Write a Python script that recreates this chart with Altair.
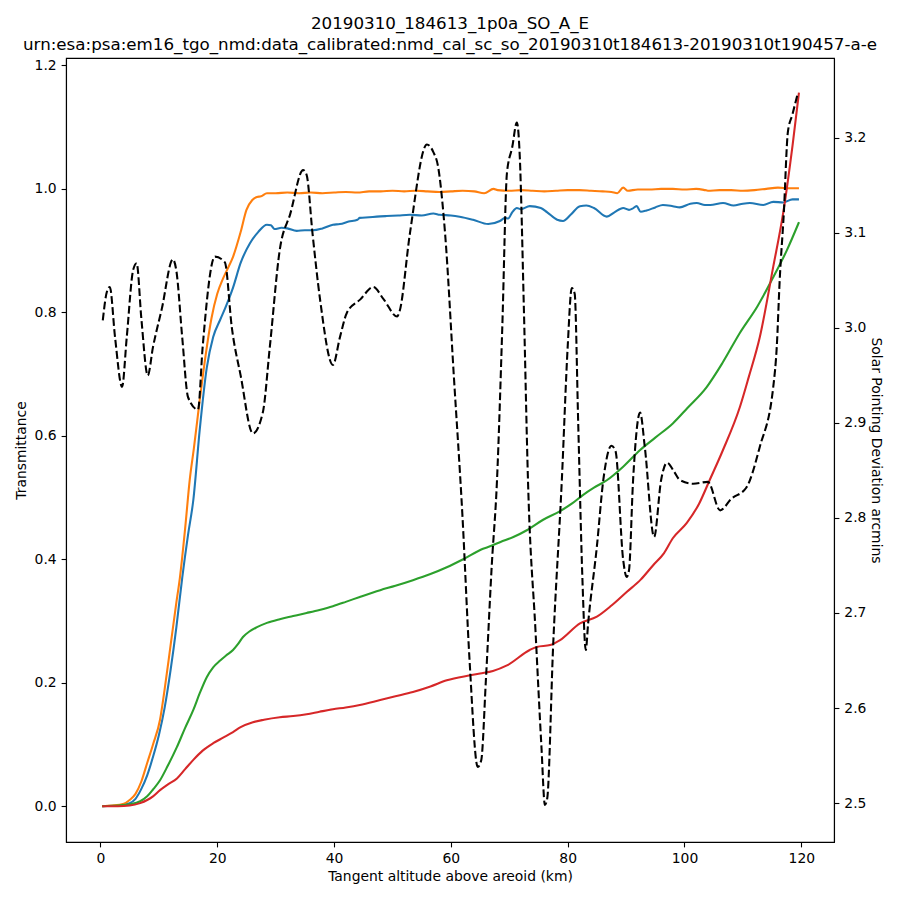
import altair as alt
import pandas as pd

# ---- data ----
blue_x = [0.3, 3, 5, 6, 7, 8, 9, 10, 11, 12, 13, 14, 15, 15.9, 17, 18.2, 19.3, 20.5, 21.5, 22.7,
          24, 25.6, 27, 28.5, 29.2, 29.8, 31, 32, 33.6, 35, 36.4, 38, 39.8, 41, 42.5, 44, 44.4,
          46, 47.3, 49, 51, 53, 55, 57, 58.1, 60, 61.5, 63.8, 66.4, 68.4, 69.3, 69.8, 70.5, 71.3,
          72, 73.5, 75.4, 76.5, 78.2, 79.2, 80.5, 82.1, 83.2, 84.5, 86.7, 88, 89.5, 90.5, 91.1,
          91.8, 92.5, 93.5, 95, 96.3, 98, 99.2, 101, 102.1, 103.5, 104.4, 106.6, 108.4, 110,
          111.2, 113.5, 115.2, 116.9, 118.5, 119.6]
blue_y = [0.0, 0.001, 0.005, 0.012, 0.028, 0.05, 0.08, 0.115, 0.16, 0.22, 0.29, 0.37, 0.44, 0.496,
          0.61, 0.71, 0.76, 0.788, 0.81, 0.84, 0.88, 0.912, 0.93, 0.942, 0.941, 0.935, 0.937, 0.936,
          0.932, 0.933, 0.933, 0.936, 0.942, 0.943, 0.947, 0.95, 0.953, 0.954, 0.955, 0.956, 0.957,
          0.958, 0.957, 0.96, 0.958, 0.957, 0.955, 0.950, 0.943, 0.948, 0.953, 0.952, 0.962, 0.969,
          0.967, 0.972, 0.969, 0.962, 0.950, 0.948, 0.958, 0.972, 0.973, 0.969, 0.955, 0.962, 0.969,
          0.966, 0.968, 0.972, 0.963, 0.965, 0.97, 0.974, 0.972, 0.970, 0.976, 0.977, 0.974, 0.974,
          0.977, 0.973, 0.976, 0.977, 0.974, 0.979, 0.978, 0.983, 0.983]

orange_x = [0.3, 2, 4, 5, 6, 7, 8, 9, 10.2, 11, 12, 13, 13.6, 14.5, 15.3, 16, 17, 18, 19, 20, 21,
            22, 22.7, 24, 25, 26, 26.8, 27.5, 28.5, 30, 32, 34, 36, 38, 40, 42, 44, 46, 48, 50, 52,
            54, 56, 58, 60, 62, 64, 65.7, 67.3, 68, 70, 72, 74, 76, 78, 80, 82, 84, 86, 87.5, 88.5,
            89.5, 90.3, 92, 94, 96, 98, 100, 102, 103.5, 104, 106, 108, 110, 112, 114, 116, 118, 119.6]
orange_y = [0.0, 0.001, 0.004, 0.01, 0.02, 0.04, 0.07, 0.10, 0.14, 0.19, 0.26, 0.33, 0.37, 0.45,
            0.53, 0.58, 0.658, 0.73, 0.79, 0.83, 0.855, 0.875, 0.89, 0.93, 0.966, 0.982, 0.987,
            0.988, 0.993, 0.993, 0.994, 0.993, 0.994, 0.993, 0.994, 0.995, 0.994, 0.996, 0.996,
            0.997, 0.996, 0.997, 0.996, 0.995, 0.996, 0.997, 0.996, 0.993, 1.0, 0.998, 0.997, 0.998,
            0.997, 0.996, 0.997, 0.998, 0.998, 0.997, 0.996, 0.995, 0.993, 1.002, 0.997, 0.999,
            0.999, 1.0, 1.0, 0.999, 1.0, 0.998, 0.997, 0.998, 0.998, 0.997, 0.998, 1.0, 1.002,
            1.001, 1.001]

green_x = [0.3, 3, 5, 6.8, 8, 9, 10.2, 11.5, 13.1, 14.5, 15.9, 17, 18.2, 19.3, 20.5, 21.5, 22.7,
           23.5, 24.4, 25.5, 26.8, 28.5, 30.7, 33, 35.3, 37.5, 39.8, 42, 44.4, 47.9, 50.5, 53.5,
           56.5, 59.3, 62.1, 65.5, 66.7, 68.5, 70.7, 73, 75.8, 78.7, 80.7, 82.6, 84.5, 86.7, 89.5,
           92.4, 95, 98, 100.5, 103.8, 106.5, 109.5, 112.5, 115.2, 117.5, 119.6]
green_y = [0.0, 0.001, 0.003, 0.008, 0.016, 0.027, 0.042, 0.065, 0.096, 0.127, 0.156, 0.183, 0.209,
           0.225, 0.236, 0.244, 0.253, 0.262, 0.274, 0.283, 0.29, 0.297, 0.303, 0.308, 0.313, 0.318,
           0.324, 0.331, 0.339, 0.350, 0.357, 0.366, 0.376, 0.387, 0.400, 0.417, 0.421, 0.428,
           0.436, 0.447, 0.464, 0.478, 0.49, 0.504, 0.516, 0.528, 0.55, 0.577, 0.597, 0.62, 0.645,
           0.679, 0.718, 0.767, 0.81, 0.857, 0.9, 0.946]

red_x = [0.3, 3, 5, 6.8, 8, 9, 10.2, 11.5, 13.1, 14.5, 15.9, 17.5, 19.3, 21, 22.7, 24, 26.1, 28,
         30.7, 33, 35.3, 37.5, 39.8, 42, 44.4, 47.9, 50.5, 53.5, 56.5, 59.3, 63.3, 65, 67.2, 69.6,
         73.5, 74.7, 77, 78.7, 82.1, 85, 87.5, 90.1, 92.5, 94.6, 96.5, 98, 100.4, 102.5, 104.3,
         106.5, 109.5, 111, 112.9, 115.2, 116.9, 118.5, 119.6]
red_y = [0.0, 0.0, 0.001, 0.005, 0.01, 0.016, 0.026, 0.035, 0.045, 0.06, 0.075, 0.09, 0.102, 0.111,
         0.12, 0.128, 0.136, 0.14, 0.144, 0.146, 0.149, 0.153, 0.157, 0.16, 0.164, 0.172, 0.178,
         0.185, 0.194, 0.204, 0.212, 0.215, 0.219, 0.228, 0.253, 0.258, 0.261, 0.269, 0.296,
         0.307, 0.325, 0.347, 0.367, 0.39, 0.41, 0.434, 0.459, 0.49, 0.528, 0.575, 0.647, 0.695,
         0.76, 0.874, 0.961, 1.07, 1.156]

dev_x = [0.4, 1.1, 1.6, 2.5, 3.7, 4.5, 5.6, 6.2, 7, 8.1, 9, 10.5, 12.4, 13, 14, 15, 16.7, 17.5,
         19.6, 21.3, 22.5, 24, 26.1, 27.8, 29, 30.7, 32.5, 34.7, 35.3, 36.3, 37.6, 39.8, 41, 42.2,
         44.5, 46.7, 48.5, 50.8, 51.2, 53, 55.9, 57, 57.8, 59, 60.5, 62, 63.2, 64.6, 65.2, 66, 67,
         67.9, 68.8, 69.6, 70.5, 71.3, 71.8, 72.5, 73.2, 74.5, 75.5, 76.1, 76.5, 77.5, 79, 80,
         80.7, 81.2, 81.8, 82.5, 83.1, 83.5, 85, 86.1, 87.5, 88.2, 89.5, 90.1, 90.5, 91.2, 92.4,
         93.2, 94.8, 96, 97, 98.3, 99.2, 101.5, 104, 106.1, 108, 110.6, 112.9, 115.2, 115.8, 116.3,
         117, 117.7, 118.5, 119.4]
dev_y = [3.008, 3.038, 3.043, 2.99, 2.938, 2.99, 3.061, 3.068, 3.01, 2.95, 2.98, 3.02, 3.072, 3.06,
         2.99, 2.927, 2.914, 2.98, 3.075, 3.069, 3.0, 2.95, 2.889, 2.911, 2.98, 3.082, 3.12, 3.166,
         3.161, 3.1, 3.03, 2.961, 2.99, 3.016, 3.03, 3.043, 3.03, 3.012, 3.017, 3.1, 3.193, 3.185,
         3.17, 3.1, 2.95, 2.8, 2.65, 2.538, 2.545, 2.63, 2.75, 2.84, 3.0, 3.163, 3.19, 3.216, 3.18,
         3.02, 2.84, 2.68, 2.56, 2.498, 2.505, 2.664, 2.84, 2.98, 3.042, 3.036, 2.9, 2.74, 2.661,
         2.689, 2.77, 2.84, 2.876, 2.87, 2.756, 2.738, 2.745, 2.84, 2.911, 2.875, 2.78, 2.84, 2.858,
         2.848, 2.84, 2.836, 2.838, 2.808, 2.82, 2.832, 2.875, 2.938, 2.98, 3.05, 3.12, 3.206, 3.225,
         3.247]

x_ticks = [0, 20, 40, 60, 80, 100, 120]
left_ticks = [0.0, 0.2, 0.4, 0.6, 0.8, 1.0, 1.2]
right_ticks = [2.5, 2.6, 2.7, 2.8, 2.9, 3.0, 3.1, 3.2]

title_lines = ["20190310_184613_1p0a_SO_A_E",
               "urn:esa:psa:em16_tgo_nmd:data_calibrated:nmd_cal_sc_so_20190310t184613-20190310t190457-a-e"]

# ---- chart ----
xscale = alt.Scale(domain=[-5.9, 125.6], nice=False, zero=False)
xaxis = alt.Axis(values=x_ticks, title="Tangent altitude above areoid (km)", titlePadding=3.5)
yscale = alt.Scale(domain=[-0.058, 1.212], nice=False, zero=False)
yaxis = alt.Axis(values=left_ticks, format=".1f", title="Transmittance", orient="left",
                 titlePadding=6)


def colored(xs, ys, color):
    d = pd.DataFrame({"alt": xs, "val": ys})
    return alt.Chart(d).mark_line(color=color, strokeWidth=2.08, interpolate="monotone").encode(
        x=alt.X("alt:Q", scale=xscale, axis=xaxis),
        y=alt.Y("val:Q", scale=yscale, axis=yaxis),
    )


trans = alt.layer(
    colored(blue_x, blue_y, "#1f77b4"),
    colored(orange_x, orange_y, "#ff7f0e"),
    colored(green_x, green_y, "#2ca02c"),
    colored(red_x, red_y, "#d62728"),
)

dev = alt.Chart(pd.DataFrame({"alt": dev_x, "dev": dev_y})).mark_line(
    color="black", strokeWidth=2.08, strokeDash=[7.7, 3.3], interpolate="monotone"
).encode(
    x=alt.X("alt:Q", scale=xscale, axis=xaxis),
    y=alt.Y("dev:Q", scale=alt.Scale(domain=[2.459, 3.284], nice=False, zero=False),
            axis=alt.Axis(values=right_ticks, format=".1f", orient="right",
                          title="Solar Pointing Deviation arcmins", titlePadding=3)),
)

chart = alt.layer(trans, dev).resolve_scale(y="independent").properties(
    width=768,
    height=784,
    autosize=alt.AutoSizeParams(type="none"),
    padding={"left": 58, "top": 50, "right": 58, "bottom": 50},
    background="white",
    title=alt.TitleParams(
        text=title_lines, font="DejaVu Sans", fontSize=16.7, fontWeight="normal",
        color="black", anchor="middle", frame="group", baseline="bottom",
        lineHeight=21, offset=-12.5,
    ),
).configure_view(
    stroke="black", strokeWidth=1.1
).configure_axis(
    grid=False, domainColor="black", domainWidth=1.1, tickColor="black", tickWidth=1.1,
    tickSize=4.9, labelPadding=4.9, labelFont="DejaVu Sans", labelFontSize=13.9,
    labelColor="black", titleFont="DejaVu Sans", titleFontSize=13.9,
    titleFontWeight="normal", titleColor="black",
)

chart.save("out.html", embed_options={"renderer": "svg", "actions": False})
